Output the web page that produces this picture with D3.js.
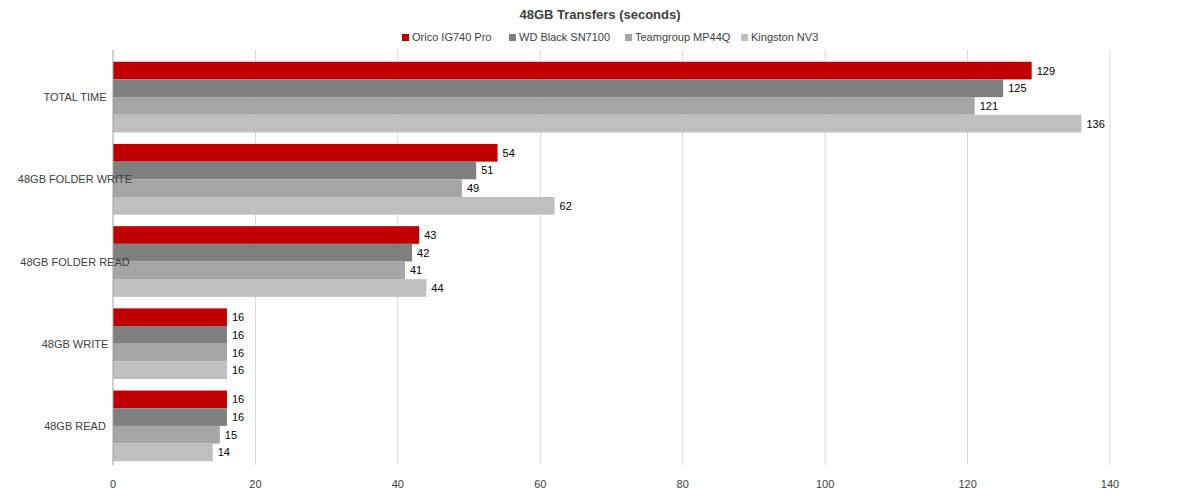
<!DOCTYPE html>
<html><head><meta charset="utf-8">
<script src="https://cdn.jsdelivr.net/npm/d3@7"></script>
<style>body{margin:0;background:#fff;font-family:"Liberation Sans",Arial,sans-serif;}</style>
</head><body>
<svg id="chart" width="1200" height="496"></svg>
<script>
const categories = ['TOTAL TIME', '48GB FOLDER WRITE', '48GB FOLDER READ', '48GB WRITE', '48GB READ'];
const series = ['Orico IG740 Pro', 'WD Black SN7100', 'Teamgroup MP44Q', 'Kingston NV3'];
const colors = ['#c00000', '#7f7f7f', '#a5a5a5', '#bfbfbf'];
const values = [
  [129, 54, 43, 16, 16],
  [125, 51, 42, 16, 16],
  [121, 49, 41, 16, 15],
  [136, 62, 44, 16, 14]
];
const ticks = [0, 20, 40, 60, 80, 100, 120, 140];

const svg = d3.select('#chart');
const x = d3.scaleLinear().domain([0, 140]).range([113, 1110]);
const y = d3.scaleBand().domain(categories).range([56, 467]).paddingInner(0.14).paddingOuter(0.07);
const yi = d3.scaleBand().domain(series).range([0, y.bandwidth()]);

// gridlines
svg.selectAll('.grid').data(ticks.slice(1)).join('line')
  .attr('x1', d => x(d)).attr('x2', d => x(d))
  .attr('y1', 50).attr('y2', 465)
  .attr('stroke', '#d9d9d9').attr('stroke-width', 1);

// bars
series.forEach((s, si) => {
  const g = svg.append('g');
  g.selectAll('rect').data(values[si]).join('rect')
    .attr('x', x(0))
    .attr('y', (d, i) => y(categories[i]) + yi(s))
    .attr('width', d => x(d) - x(0))
    .attr('height', yi.bandwidth())
    .attr('fill', colors[si]);
  g.selectAll('text').data(values[si]).join('text')
    .attr('x', d => x(d) + 5)
    .attr('y', (d, i) => y(categories[i]) + yi(s) + yi.bandwidth() / 2 + 4)
    .attr('font-size', 11).attr('fill', '#000')
    .text(d => d);
});

// left axis line
svg.append('line').attr('x1', x(0)).attr('x2', x(0)).attr('y1', 50).attr('y2', 465)
  .attr('stroke', '#a0a0a0');

// category labels
svg.selectAll('.cat').data(categories).join('text')
  .attr('x', 75).attr('y', d => y(d) + y.bandwidth() / 2 + 4)
  .attr('text-anchor', 'middle').attr('font-size', 11).attr('fill', '#404040')
  .text(d => d);

// x tick labels
svg.selectAll('.tick').data(ticks).join('text')
  .attr('x', d => x(d)).attr('y', 488)
  .attr('text-anchor', 'middle').attr('font-size', 11).attr('fill', '#404040')
  .text(d => d);

// title
svg.append('text').attr('x', 600).attr('y', 19).attr('text-anchor', 'middle')
  .attr('font-size', 13).attr('font-weight', 'bold').attr('fill', '#404040')
  .text('48GB Transfers (seconds)');

// legend
const legendX = [402, 509, 625, 741];
series.forEach((s, i) => {
  svg.append('rect').attr('x', legendX[i]).attr('y', 34).attr('width', 7).attr('height', 7).attr('fill', colors[i]);
  svg.append('text').attr('x', legendX[i] + 10).attr('y', 41).attr('font-size', 11).attr('fill', '#404040').text(s);
});
</script>
</body></html>
